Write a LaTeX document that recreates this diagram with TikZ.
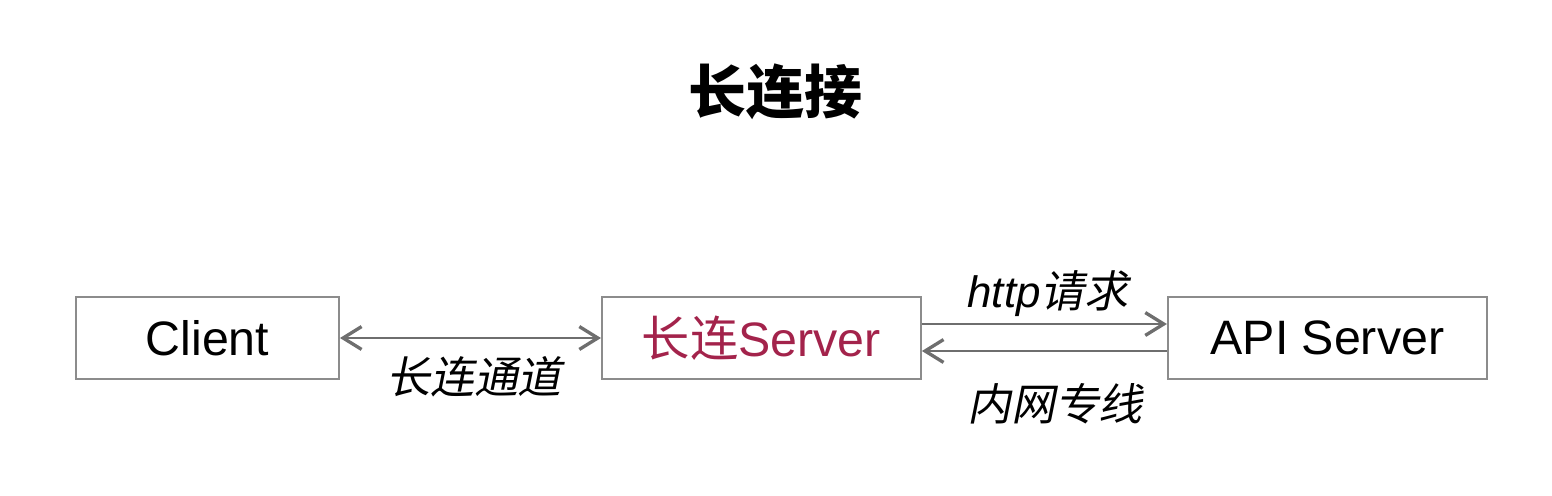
\documentclass[tikz,border=0pt]{standalone}
\usepackage{fontspec}
\setmainfont{Liberation Sans}
\newfontfamily\cjk[AutoFakeSlant=0.2]{Noto Sans CJK SC}
\usetikzlibrary{positioning,arrows.meta}
\definecolor{boxgray}{HTML}{8C8C8C}
\definecolor{arrowgray}{HTML}{6E6E6E}
\definecolor{longred}{HTML}{A3234B}
\tikzset{barb/.tip={Straight Barb[length=10.5pt,width=13pt,line width=1.9pt]}}

\begin{document}
\begin{tikzpicture}[auto, node distance=5.22cm,
                    box node/.style={rectangle, draw=boxgray, line width=1.1pt,
                                     minimum height=1.64cm, inner sep=0pt,
                                     font=\fontsize{27.5}{32}\selectfont},
                    link/.style={draw=arrowgray, line width=1.3pt},
                    note/.style={font=\fontsize{25}{30}\selectfont\itshape}]
    \useasboundingbox (0,0) rectangle (31.04,-9.9);

    \node[font=\cjk\bfseries\fontsize{33}{40}\selectfont] (title) at (15.5,-1.83) {长连接};

    \node[box node, minimum width=5.26cm] (client) at (4.15,-6.76)     {Client};
    \node[box node, minimum width=6.38cm] (server) [right=of client]     {\color{longred}{\cjk 长连}Server};
    \node[box node, minimum width=6.38cm] (api)    [right=4.90cm of server] {API Server};

    \draw[link, barb-barb] (client) -- (server);
    \draw[link, -barb] ([yshift=0.28cm]server.east) -- ([yshift=0.28cm]api.west);
    \draw[link, -barb] ([yshift=-0.26cm]api.west) -- ([yshift=-0.26cm]server.east);

    \node[note] (chan) at (9.48,-7.54)  {\cjk 长连通道};
    \node[note] (req)  at (20.96,-5.88) {http{\cjk 请求}};
    \node[note] (line) at (21.1,-8.08)  {\cjk 内网专线};
\end{tikzpicture}
\end{document}
